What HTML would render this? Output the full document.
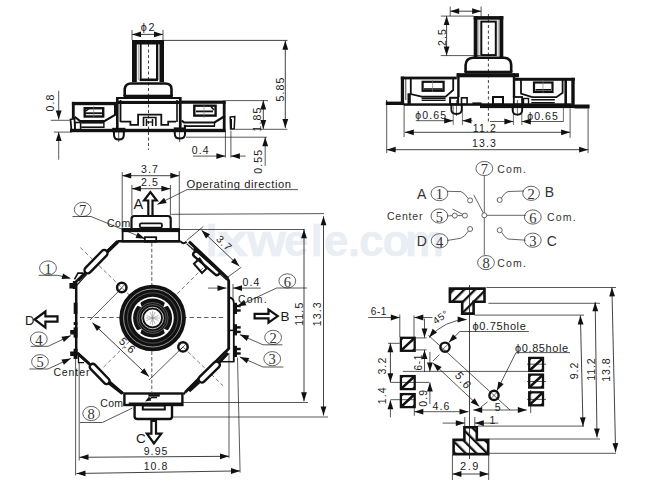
<!DOCTYPE html><html><head><meta charset="utf-8"><style>html,body{margin:0;padding:0;background:#fff;}svg{display:block}</style></head><body><svg width="661" height="486" viewBox="0 0 661 486">
<text transform="translate(205.5,255.5) scale(1,1)" font-family="Liberation Sans" font-size="44" font-weight="bold" fill="#e9edf4" stroke="#e9edf4" stroke-width="0.3">l</text>
<text transform="translate(216.7,255.5) scale(1.3,1)" font-family="Liberation Sans" font-size="44" font-weight="bold" fill="#e9edf4" stroke="#e9edf4" stroke-width="0.3">x</text>
<text transform="translate(247,255.5) scale(1.147,1)" font-family="Liberation Sans" font-size="44" font-weight="bold" fill="#e9edf4" stroke="#e9edf4" stroke-width="0.3">w</text>
<text transform="translate(284,255.5) scale(1,1)" font-family="Liberation Sans" font-size="44" font-weight="bold" fill="#e9edf4" stroke="#e9edf4" stroke-width="0.3">e</text>
<text transform="translate(310.6,255.5) scale(1,1)" font-family="Liberation Sans" font-size="44" font-weight="bold" fill="#e9edf4" stroke="#e9edf4" stroke-width="0.3">l</text>
<text transform="translate(324,255.5) scale(1,1)" font-family="Liberation Sans" font-size="44" font-weight="bold" fill="#e9edf4" stroke="#e9edf4" stroke-width="0.3">e</text>
<text transform="translate(348,255.5) scale(1,1)" font-family="Liberation Sans" font-size="44" font-weight="bold" fill="#e9edf4" stroke="#e9edf4" stroke-width="0.3">.</text>
<text transform="translate(359,255.5) scale(1,1)" font-family="Liberation Sans" font-size="44" font-weight="bold" fill="#e9edf4" stroke="#e9edf4" stroke-width="0.3">c</text>
<text transform="translate(382.5,255.5) scale(1,1)" font-family="Liberation Sans" font-size="44" font-weight="bold" fill="#e9edf4" stroke="#e9edf4" stroke-width="0.3">o</text>
<text transform="translate(405,255.5) scale(1,1)" font-family="Liberation Sans" font-size="44" font-weight="bold" fill="#e9edf4" stroke="#e9edf4" stroke-width="0.3">m</text>
<rect x="132.0" y="40.0" width="31.5" height="4.5" fill="#111"/>
<rect x="132.0" y="40.0" width="4.8" height="42.0" fill="#111"/>
<rect x="159.5" y="40.0" width="4.5" height="42.0" fill="#111"/>
<line x1="138.3" y1="44.0" x2="138.3" y2="80.0" stroke="#888" stroke-width="0.8"/>
<line x1="158.7" y1="44.0" x2="158.7" y2="80.0" stroke="#888" stroke-width="0.8"/>
<rect x="139.8" y="44.0" width="1.8" height="37.0" fill="#111"/>
<rect x="156.0" y="44.0" width="2.0" height="37.0" fill="#111"/>
<rect x="139.8" y="78.5" width="18.2" height="2.6" fill="#111"/>
<line x1="148.5" y1="44.0" x2="148.5" y2="150.0" stroke="#111" stroke-width="0.8" stroke-dasharray="3,2.5"/>
<path d="M124.7,96 L124.7,89 Q125.5,83.5 131,83.5 L165,83.5 Q171.5,83.5 171.5,89 L171.5,96" fill="none" stroke="#111" stroke-width="2.6"/>
<rect x="123.5" y="94.7" width="49.3" height="3.8" fill="#111"/>
<rect x="117.3" y="97.0" width="62.5" height="2.0" fill="#111"/>
<rect x="117.3" y="100.9" width="62.5" height="3.1" fill="#111"/>
<rect x="116.0" y="97.0" width="2.6" height="33.0" fill="#111"/>
<rect x="119.6" y="100.0" width="1.8" height="22.0" fill="#111"/>
<rect x="178.9" y="97.0" width="2.7" height="33.0" fill="#111"/>
<rect x="176.2" y="100.0" width="1.6" height="22.0" fill="#111"/>
<polyline points="120.5,121.7 130.4,121.7 130.4,124.8 138.1,124.8 138.1,114.7 161.3,114.7 161.3,124.8 168.2,124.8 168.2,121.7 176.0,121.7" fill="none" stroke="#111" stroke-width="1.8" stroke-linejoin="miter"/>
<polyline points="143.5,126.0 143.5,117.5 155.9,117.5 155.9,126.0" fill="none" stroke="#111" stroke-width="1.6" stroke-linejoin="miter"/>
<line x1="146.5" y1="119.0" x2="146.5" y2="126.0" stroke="#111" stroke-width="1.5"/>
<line x1="152.5" y1="119.0" x2="152.5" y2="126.0" stroke="#111" stroke-width="1.5"/>
<line x1="146.5" y1="122.0" x2="152.5" y2="122.0" stroke="#111" stroke-width="1.2"/>
<rect x="71.9" y="101.9" width="45.0" height="3.3" fill="#111"/>
<rect x="179.0" y="100.6" width="46.6" height="3.2" fill="#111"/>
<rect x="71.9" y="101.9" width="2.8" height="16.5" fill="#111"/>
<rect x="222.8" y="100.6" width="2.8" height="29.0" fill="#111"/>
<polygon points="70.5,119.5 74.5,118.5 75.0,131.0 71.5,131.0" fill="none" stroke="#111" stroke-width="1.8" stroke-linejoin="miter"/>
<rect x="75.0" y="122.5" width="5.6" height="8.0" rx="0" fill="none" stroke="#111" stroke-width="1.6"/>
<polyline points="74.7,116.8 79.8,120.9 104.8,120.9 115.0,114.9 115.0,105.0" fill="none" stroke="#111" stroke-width="2" stroke-linejoin="miter"/>
<rect x="81.2" y="121.9" width="22.7" height="1.7" fill="#111"/>
<rect x="81.2" y="126.4" width="22.7" height="1.6" fill="#111"/>
<line x1="103.9" y1="122.0" x2="103.9" y2="128.0" stroke="#111" stroke-width="1.4"/>
<rect x="84.7" y="108.2" width="18.5" height="8.3" rx="0" fill="none" stroke="#111" stroke-width="2.4"/>
<rect x="86.0" y="112.3" width="16.0" height="1.8" fill="#111"/>
<line x1="93.7" y1="106.0" x2="93.7" y2="118.0" stroke="#777" stroke-width="0.6"/>
<path d="M86,111 L89,108.5" stroke="#111" stroke-width="1.5"/>
<polyline points="181.7,120.5 184.0,122.5 214.5,122.5 224.9,116.0" fill="none" stroke="#111" stroke-width="2.2" stroke-linejoin="miter"/>
<rect x="183.9" y="125.2" width="31.0" height="1.8" fill="#111"/>
<rect x="183.9" y="124.8" width="2.0" height="4.0" fill="#111"/>
<line x1="214.5" y1="122.5" x2="214.5" y2="126.5" stroke="#111" stroke-width="1.4"/>
<rect x="194.3" y="105.7" width="21.3" height="9.9" rx="0" fill="none" stroke="#111" stroke-width="2.4"/>
<rect x="196.0" y="110.5" width="17.0" height="1.8" fill="#111"/>
<line x1="204.0" y1="104.0" x2="204.0" y2="118.0" stroke="#777" stroke-width="0.6"/>
<path d="M211,106.5 L214,110" stroke="#111" stroke-width="1.5"/>
<rect x="70.0" y="128.8" width="155.6" height="3.4" fill="#111"/>
<path d="M114,131.5 L114,135 Q114,139.6 118.9,139.6 Q123.8,139.6 123.8,135 L123.8,131.5" fill="none" stroke="#111" stroke-width="2"/>
<rect x="112.2" y="127.8" width="13.2" height="4.5" fill="#111"/>
<path d="M174.8,130.5 L174.8,134 Q174.8,138.6 179.9,138.6 Q185,138.6 185,134 L185,130.5" fill="none" stroke="#111" stroke-width="2"/>
<rect x="173.8" y="127.4" width="12.2" height="4.5" fill="#111"/>
<line x1="118.7" y1="131.0" x2="118.7" y2="142.0" stroke="#111" stroke-width="0.7"/>
<line x1="179.6" y1="131.0" x2="179.6" y2="142.0" stroke="#111" stroke-width="0.7"/>
<polygon points="230.2,117.0 234.8,116.5 234.2,129.0 230.6,129.0" fill="none" stroke="#111" stroke-width="1.5" stroke-linejoin="miter"/>
<rect x="230.4" y="119.0" width="1.6" height="10.0" fill="#111"/>
<line x1="132.0" y1="30.0" x2="132.0" y2="40.0" stroke="#111" stroke-width="0.7"/>
<line x1="163.0" y1="30.0" x2="163.0" y2="40.0" stroke="#111" stroke-width="0.7"/>
<line x1="132.0" y1="34.4" x2="163.0" y2="34.4" stroke="#111" stroke-width="0.8"/>
<polygon points="163.0,34.4 154.0,37.3 154.0,31.5" fill="#111"/>
<polygon points="132.0,34.4 141.0,31.5 141.0,37.3" fill="#111"/>
<text x="148.6" y="27.0" font-family="Liberation Sans" font-size="10.8" text-anchor="middle" dominant-baseline="central" letter-spacing="1.8" fill="#1a1a1a" font-weight="normal">&#981;2</text>
<line x1="163.0" y1="40.4" x2="287.5" y2="40.4" stroke="#111" stroke-width="0.8"/>
<line x1="285.3" y1="40.8" x2="285.3" y2="128.0" stroke="#111" stroke-width="0.8"/>
<polygon points="285.3,128.0 282.4,119.0 288.2,119.0" fill="#111"/>
<polygon points="285.3,40.8 288.2,49.8 282.4,49.8" fill="#111"/>
<text x="280.2" y="89.0" font-family="Liberation Sans" font-size="10.5" text-anchor="middle" dominant-baseline="central" letter-spacing="1.1" fill="#1a1a1a" font-weight="normal" transform="rotate(-90 280.2 89.0)">5.85</text>
<line x1="225.6" y1="100.6" x2="268.0" y2="100.6" stroke="#111" stroke-width="0.7"/>
<line x1="263.3" y1="100.4" x2="263.3" y2="128.9" stroke="#111" stroke-width="0.8"/>
<polygon points="263.3,128.9 260.4,119.9 266.2,119.9" fill="#111"/>
<polygon points="263.3,100.4 266.2,109.4 260.4,109.4" fill="#111"/>
<text x="256.9" y="119.0" font-family="Liberation Sans" font-size="10.5" text-anchor="middle" dominant-baseline="central" letter-spacing="1.1" fill="#1a1a1a" font-weight="normal" transform="rotate(-90 256.9 119.0)">1.85</text>
<line x1="235.0" y1="129.3" x2="287.4" y2="129.3" stroke="#111" stroke-width="0.7"/>
<line x1="50.8" y1="120.3" x2="69.5" y2="120.3" stroke="#111" stroke-width="0.7"/>
<line x1="53.8" y1="132.1" x2="72.0" y2="132.1" stroke="#111" stroke-width="0.7"/>
<line x1="58.7" y1="90.8" x2="58.7" y2="119.5" stroke="#111" stroke-width="0.7"/>
<polygon points="58.7,119.5 55.8,110.5 61.6,110.5" fill="#111"/>
<line x1="58.7" y1="132.1" x2="58.7" y2="159.6" stroke="#111" stroke-width="0.7"/>
<polygon points="58.7,132.1 61.6,141.1 55.8,141.1" fill="#111"/>
<text x="49.8" y="102.6" font-family="Liberation Sans" font-size="10.5" text-anchor="middle" dominant-baseline="central" letter-spacing="1.1" fill="#1a1a1a" font-weight="normal" transform="rotate(-90 49.8 102.6)">0.8</text>
<line x1="225.4" y1="130.0" x2="225.4" y2="157.6" stroke="#111" stroke-width="0.7"/>
<line x1="230.9" y1="130.7" x2="230.9" y2="157.6" stroke="#111" stroke-width="0.7"/>
<line x1="193.0" y1="156.1" x2="225.4" y2="156.1" stroke="#111" stroke-width="0.7"/>
<polygon points="225.4,156.1 216.4,159.0 216.4,153.2" fill="#111"/>
<line x1="230.9" y1="156.1" x2="245.7" y2="156.1" stroke="#111" stroke-width="0.7"/>
<polygon points="230.9,156.1 239.9,153.2 239.9,159.0" fill="#111"/>
<text x="200.7" y="150.2" font-family="Liberation Sans" font-size="10.5" text-anchor="middle" dominant-baseline="central" letter-spacing="1.1" fill="#1a1a1a" font-weight="normal">0.4</text>
<line x1="186.0" y1="137.2" x2="267.0" y2="137.2" stroke="#111" stroke-width="0.7"/>
<line x1="265.2" y1="137.2" x2="265.2" y2="165.9" stroke="#111" stroke-width="0.7"/>
<polygon points="265.2,137.2 268.1,146.2 262.3,146.2" fill="#111"/>
<text x="257.8" y="161.3" font-family="Liberation Sans" font-size="10.5" text-anchor="middle" dominant-baseline="central" letter-spacing="1.1" fill="#1a1a1a" font-weight="normal" transform="rotate(-90 257.8 161.3)">0.55</text>
<rect x="473.7" y="16.1" width="29.6" height="3.6" fill="#111"/>
<rect x="473.7" y="16.1" width="3.8" height="41.0" fill="#111"/>
<rect x="499.5" y="16.1" width="3.8" height="41.0" fill="#111"/>
<line x1="478.8" y1="20.0" x2="478.8" y2="56.0" stroke="#888" stroke-width="0.8"/>
<line x1="498.2" y1="20.0" x2="498.2" y2="56.0" stroke="#888" stroke-width="0.8"/>
<rect x="481.3" y="21.6" width="14.5" height="33.5" rx="0" fill="none" stroke="#111" stroke-width="2"/>
<line x1="488.4" y1="14.0" x2="488.4" y2="122.0" stroke="#111" stroke-width="0.8" stroke-dasharray="3,2.5"/>
<line x1="450.2" y1="6.6" x2="450.2" y2="16.0" stroke="#111" stroke-width="0.7"/>
<line x1="481.1" y1="6.6" x2="481.1" y2="16.0" stroke="#111" stroke-width="0.7"/>
<line x1="450.2" y1="11.2" x2="481.1" y2="11.2" stroke="#111" stroke-width="0.8"/>
<polygon points="481.1,11.2 472.1,14.1 472.1,8.3" fill="#111"/>
<polygon points="450.2,11.2 459.2,8.3 459.2,14.1" fill="#111"/>
<line x1="440.8" y1="16.1" x2="473.7" y2="16.1" stroke="#111" stroke-width="0.7"/>
<line x1="440.8" y1="55.6" x2="480.0" y2="55.6" stroke="#111" stroke-width="0.7"/>
<line x1="446.6" y1="16.1" x2="446.6" y2="55.6" stroke="#111" stroke-width="0.8"/>
<polygon points="446.6,55.6 443.7,46.6 449.5,46.6" fill="#111"/>
<polygon points="446.6,16.1 449.5,25.1 443.7,25.1" fill="#111"/>
<text x="442.0" y="37.0" font-family="Liberation Sans" font-size="10.5" text-anchor="middle" dominant-baseline="central" letter-spacing="1.1" fill="#1a1a1a" font-weight="normal" transform="rotate(-90 442.0 37.0)">2.5</text>
<path d="M465.6,72 L465.6,65 Q466,58 473,57.7 L504,57.7 Q511,58 511.2,65 L511.2,72" fill="none" stroke="#111" stroke-width="2.6"/>
<rect x="464.4" y="70.7" width="48.0" height="2.8" fill="#111"/>
<rect x="456.5" y="73.2" width="62.5" height="4.1" fill="#111"/>
<rect x="457.2" y="73.2" width="2.4" height="24.0" fill="#111"/>
<rect x="512.8" y="73.2" width="2.4" height="24.0" fill="#111"/>
<rect x="400.8" y="76.6" width="56.0" height="2.8" fill="#111"/>
<rect x="515.0" y="77.8" width="59.8" height="3.0" fill="#111"/>
<rect x="400.8" y="76.6" width="3.3" height="28.5" fill="#111"/>
<rect x="571.3" y="77.8" width="3.4" height="30.0" fill="#111"/>
<rect x="385.8" y="101.6" width="18.3" height="3.4" fill="#111"/>
<rect x="574.7" y="104.5" width="14.9" height="4.0" fill="#111"/>
<line x1="386.7" y1="100.0" x2="386.7" y2="105.0" stroke="#111" stroke-width="0.9"/>
<line x1="405.8" y1="79.0" x2="405.8" y2="100.0" stroke="#111" stroke-width="0.8"/>
<rect x="407.5" y="93.3" width="3.3" height="11.0" fill="#111"/>
<rect x="564.4" y="80.0" width="2.6" height="26.0" fill="#111"/>
<polyline points="410.8,79.0 410.8,94.0 421.6,96.6 445.7,96.6 453.2,90.0 453.2,79.0" fill="none" stroke="#111" stroke-width="1.8" stroke-linejoin="miter"/>
<rect x="422.6" y="81.8" width="21.0" height="9.0" rx="0" fill="none" stroke="#111" stroke-width="2.2"/>
<rect x="424.0" y="88.2" width="18.5" height="1.6" fill="#111"/>
<line x1="432.5" y1="80.0" x2="432.5" y2="92.0" stroke="#777" stroke-width="0.6"/>
<rect x="421.6" y="97.5" width="24.0" height="1.5" fill="#111"/>
<rect x="421.6" y="99.6" width="24.0" height="1.4" fill="#111"/>
<polyline points="521.0,80.0 521.0,93.7 532.2,97.2 556.5,97.2 562.6,92.8 562.6,80.0" fill="none" stroke="#111" stroke-width="1.8" stroke-linejoin="miter"/>
<rect x="534.0" y="82.5" width="18.5" height="9.5" rx="0" fill="none" stroke="#111" stroke-width="2.2"/>
<rect x="535.5" y="89.0" width="15.5" height="1.6" fill="#111"/>
<line x1="543.0" y1="80.0" x2="543.0" y2="93.0" stroke="#777" stroke-width="0.6"/>
<rect x="531.3" y="99.0" width="23.5" height="1.5" fill="#111"/>
<rect x="531.3" y="102.0" width="23.5" height="1.4" fill="#111"/>
<rect x="404.0" y="103.3" width="167.5" height="2.5" fill="#111"/>
<rect x="480.0" y="104.9" width="95.0" height="3.2" fill="#111"/>
<rect x="450.1" y="97.8" width="8.0" height="6.5" rx="0" fill="none" stroke="#111" stroke-width="2"/>
<rect x="461.5" y="97.8" width="5.6" height="6.5" rx="0" fill="none" stroke="#111" stroke-width="1.6"/>
<rect x="493.0" y="97.0" width="10.0" height="7.5" rx="0" fill="none" stroke="#111" stroke-width="2"/>
<rect x="513.8" y="97.0" width="8.3" height="7.5" rx="0" fill="none" stroke="#111" stroke-width="1.8"/>
<rect x="523.5" y="98.5" width="5.0" height="6.0" rx="0" fill="none" stroke="#111" stroke-width="1.4"/>
<rect x="472.4" y="102.4" width="9.1" height="2.6" fill="#111"/>
<path d="M451.3,105 L451.3,109.5 Q451.3,114 456.5,114 Q461.7,114 461.7,109.5 L461.7,105" fill="none" stroke="#111" stroke-width="1.8"/>
<path d="M512.6,106 L512.6,110 Q512.6,114.6 517.4,114.6 Q522.2,114.6 522.2,110 L522.2,106" fill="none" stroke="#111" stroke-width="1.8"/>
<line x1="456.5" y1="100.0" x2="456.5" y2="116.0" stroke="#111" stroke-width="0.6"/>
<line x1="517.4" y1="100.0" x2="517.4" y2="116.0" stroke="#111" stroke-width="0.6"/>
<line x1="453.2" y1="106.0" x2="453.2" y2="125.0" stroke="#111" stroke-width="0.6"/>
<line x1="462.4" y1="106.0" x2="462.4" y2="125.0" stroke="#111" stroke-width="0.6"/>
<line x1="513.4" y1="108.0" x2="513.4" y2="125.0" stroke="#111" stroke-width="0.6"/>
<line x1="521.8" y1="108.0" x2="521.8" y2="125.0" stroke="#111" stroke-width="0.6"/>
<line x1="415.8" y1="120.7" x2="453.2" y2="120.7" stroke="#111" stroke-width="0.7"/>
<polygon points="453.2,120.7 444.2,123.6 444.2,117.8" fill="#111"/>
<line x1="462.4" y1="120.7" x2="472.4" y2="120.7" stroke="#111" stroke-width="0.7"/>
<polygon points="462.4,120.7 471.4,117.8 471.4,123.6" fill="#111"/>
<line x1="490.0" y1="121.5" x2="513.4" y2="121.5" stroke="#111" stroke-width="0.7"/>
<polygon points="513.4,121.5 504.4,124.4 504.4,118.6" fill="#111"/>
<line x1="521.8" y1="121.5" x2="563.4" y2="121.5" stroke="#111" stroke-width="0.7"/>
<polygon points="521.8,121.5 530.8,118.6 530.8,124.4" fill="#111"/>
<line x1="563.4" y1="108.0" x2="563.4" y2="121.5" stroke="#111" stroke-width="0.6"/>
<text x="431.2" y="114.9" font-family="Liberation Sans" font-size="10.5" text-anchor="middle" dominant-baseline="central" letter-spacing="1.1" fill="#1a1a1a" font-weight="normal">&#981;0.65</text>
<text x="543.1" y="115.5" font-family="Liberation Sans" font-size="10.5" text-anchor="middle" dominant-baseline="central" letter-spacing="1.1" fill="#1a1a1a" font-weight="normal">&#981;0.65</text>
<line x1="404.1" y1="105.0" x2="404.1" y2="137.0" stroke="#111" stroke-width="0.7"/>
<line x1="570.1" y1="108.4" x2="570.1" y2="137.8" stroke="#111" stroke-width="0.7"/>
<line x1="404.8" y1="132.3" x2="570.1" y2="132.3" stroke="#111" stroke-width="0.8"/>
<polygon points="570.1,132.3 561.1,135.2 561.1,129.4" fill="#111"/>
<polygon points="404.8,132.3 413.8,129.4 413.8,135.2" fill="#111"/>
<text x="484.8" y="128.3" font-family="Liberation Sans" font-size="10.5" text-anchor="middle" dominant-baseline="central" letter-spacing="1.1" fill="#1a1a1a" font-weight="normal">11.2</text>
<line x1="386.7" y1="105.0" x2="386.7" y2="153.0" stroke="#111" stroke-width="0.7"/>
<line x1="588.1" y1="108.4" x2="588.1" y2="153.1" stroke="#111" stroke-width="0.7"/>
<line x1="386.7" y1="149.7" x2="588.1" y2="149.7" stroke="#111" stroke-width="0.8"/>
<polygon points="588.1,149.7 579.1,152.6 579.1,146.8" fill="#111"/>
<polygon points="386.7,149.7 395.7,146.8 395.7,152.6" fill="#111"/>
<text x="484.5" y="142.7" font-family="Liberation Sans" font-size="10.5" text-anchor="middle" dominant-baseline="central" letter-spacing="1.1" fill="#1a1a1a" font-weight="normal">13.3</text>
<line x1="151.8" y1="243.0" x2="151.8" y2="392.0" stroke="#333" stroke-width="0.8" stroke-dasharray="3.7,2"/>
<line x1="80.0" y1="317.5" x2="226.0" y2="317.5" stroke="#333" stroke-width="0.8" stroke-dasharray="4.5,2.8"/>
<line x1="80.4" y1="247.6" x2="223.0" y2="385.7" stroke="#444" stroke-width="0.7" stroke-dasharray="4,2.5"/>
<line x1="103.5" y1="367.2" x2="205.0" y2="266.0" stroke="#444" stroke-width="0.7" stroke-dasharray="4,2.5"/>
<path d="M131.5,228.5 L131.5,219 Q131.5,216 134.5,216 L167.7,216 Q170.7,216 170.7,219 L170.7,228.5" fill="none" stroke="#111" stroke-width="2.2"/>
<rect x="139.8" y="223.4" width="22.2" height="4.2" rx="1.5" fill="none" stroke="#111" stroke-width="1.8"/>
<rect x="122.6" y="229.0" width="56.5" height="12.5" rx="0" fill="none" stroke="#111" stroke-width="1.8"/>
<rect x="121.8" y="228.3" width="57.8" height="3.8" fill="#111"/>
<rect x="144.8" y="237.2" width="11.4" height="4.5" rx="0" fill="none" stroke="#111" stroke-width="1.8"/>
<polyline points="117.4,241.3 180.5,241.3" fill="none" stroke="#111" stroke-width="2.4" stroke-linejoin="miter"/>
<path d="M180.5,241.3 Q183,245 186.6,241.8" fill="none" stroke="#111" stroke-width="2"/>
<polyline points="117.4,241.3 76.2,281.5 76.2,352.4 123.0,393.5" fill="none" stroke="#111" stroke-width="2.5" stroke-linejoin="miter"/>
<line x1="118.0" y1="241.5" x2="106.0" y2="253.0" stroke="#111" stroke-width="3.6"/>
<line x1="86.0" y1="272.5" x2="78.0" y2="280.5" stroke="#111" stroke-width="3"/>
<line x1="89.0" y1="363.5" x2="77.5" y2="353.0" stroke="#111" stroke-width="3"/>
<line x1="109.0" y1="383.0" x2="122.5" y2="393.5" stroke="#111" stroke-width="3.4"/>
<line x1="219.5" y1="362.0" x2="228.0" y2="353.0" stroke="#111" stroke-width="3.2"/>
<line x1="199.0" y1="382.0" x2="189.0" y2="391.0" stroke="#111" stroke-width="3.2"/>
<line x1="189.0" y1="241.6" x2="228.0" y2="278.5" stroke="#111" stroke-width="3"/>
<line x1="186.6" y1="243.6" x2="226.8" y2="280.0" stroke="#111" stroke-width="1.2"/>
<polyline points="227.6,278.5 228.7,281.0 228.7,348.7 185.2,392.2" fill="none" stroke="#111" stroke-width="2.8" stroke-linejoin="miter"/>
<line x1="224.5" y1="352.0" x2="186.5" y2="391.0" stroke="#111" stroke-width="1.2"/>
<path d="M185.2,392.2 L183.5,394.5" stroke="#111" stroke-width="2"/>
<rect x="81.0" y="258.5" width="30.1" height="6.5" rx="3.25" fill="#fff" stroke="#111" stroke-width="2.4" transform="rotate(-45.7 96.0 261.8)"/>
<rect x="86.7" y="370.9" width="25.9" height="6" rx="3.0" fill="#fff" stroke="#111" stroke-width="2.4" transform="rotate(45.9 99.6 373.9)"/>
<rect x="195.6" y="368.8" width="27.2" height="6.5" rx="3.25" fill="#fff" stroke="#111" stroke-width="2.4" transform="rotate(-44.3 209.2 372.0)"/>
<rect x="190.0" y="260.5" width="33.0" height="5.5" rx="2.75" fill="#fff" stroke="#111" stroke-width="2.4" transform="rotate(40.7 206.5 263.2)"/>
<line x1="194.0" y1="248.0" x2="220.0" y2="272.0" stroke="#111" stroke-width="2.6"/>
<polyline points="74.5,279.3 78.0,273.1 83.0,273.1" fill="none" stroke="#111" stroke-width="1.6" stroke-linejoin="miter"/>
<line x1="75.6" y1="286.7" x2="86.7" y2="274.3" stroke="#111" stroke-width="1.2"/>
<polyline points="78.5,353.0 78.5,362.6 84.0,362.6" fill="none" stroke="#111" stroke-width="1.3" stroke-linejoin="miter"/>
<polygon points="194.0,263.8 199.6,258.5 206.4,268.7 202.0,273.0" fill="none" stroke="#111" stroke-width="2" stroke-linejoin="miter"/>
<rect x="124.4" y="393.5" width="58.0" height="11.5" rx="0" fill="none" stroke="#111" stroke-width="2.4"/>
<rect x="128.7" y="402.5" width="54.0" height="3.4" fill="#111"/>
<path d="M134.6,405.7 L134.6,416.5 Q134.6,419 137.5,419 L169.5,419 Q172,419 172,416.5 L172,405.7" fill="none" stroke="#111" stroke-width="2.4"/>
<rect x="142.8" y="405.5" width="22.0" height="4.0" rx="0" fill="none" stroke="#111" stroke-width="2"/>
<rect x="148.4" y="394.2" width="11.4" height="2.4" fill="#111"/>
<polyline points="157.0,397.5 152.0,397.5 147.0,400.5" fill="none" stroke="#111" stroke-width="1.4" stroke-linejoin="miter"/>
<polygon points="145.0,401.5 149.1,396.6 151.3,400.4" fill="#111"/>
<path d="M229,297.5 Q233.8,298 233.8,303 L233.8,361.5" fill="none" stroke="#111" stroke-width="1.8"/>
<line x1="228.7" y1="330.4" x2="233.8" y2="330.4" stroke="#111" stroke-width="1.5"/>
<line x1="220.0" y1="361.7" x2="234.5" y2="361.7" stroke="#111" stroke-width="1.5"/>
<line x1="220.0" y1="361.7" x2="226.5" y2="355.0" stroke="#111" stroke-width="1.2"/>
<rect x="233.0" y="302.8" width="4.0" height="11.2" fill="#111"/>
<rect x="236.5" y="304.8" width="4.2" height="2.4" fill="#111"/>
<rect x="236.5" y="309.3" width="4.2" height="2.4" fill="#111"/>
<rect x="233.0" y="324.2" width="4.0" height="11.2" fill="#111"/>
<rect x="236.5" y="326.2" width="4.2" height="2.4" fill="#111"/>
<rect x="236.5" y="330.7" width="4.2" height="2.4" fill="#111"/>
<rect x="233.0" y="345.8" width="4.0" height="11.2" fill="#111"/>
<rect x="236.5" y="347.8" width="4.2" height="2.4" fill="#111"/>
<rect x="236.5" y="352.3" width="4.2" height="2.4" fill="#111"/>
<rect x="73.6" y="327.4" width="4.0" height="10.2" fill="#111"/>
<rect x="70.2" y="330.0" width="4.0" height="4.5" fill="#111"/>
<rect x="73.6" y="348.7" width="4.0" height="10.2" fill="#111"/>
<rect x="70.2" y="351.5" width="4.0" height="4.5" fill="#111"/>
<rect x="72.8" y="281.0" width="4.2" height="8.0" fill="#111"/>
<rect x="69.4" y="283.0" width="4.0" height="5.5" fill="#111"/>
<rect x="73.7" y="302.7" width="3.7" height="11.2" fill="#111"/>
<rect x="73.7" y="322.0" width="3.7" height="3.0" fill="#111"/>
<circle cx="152.6" cy="318.0" r="33.3" fill="#111" stroke="#111" stroke-width="0"/>
<circle cx="152.6" cy="318.0" r="29.0" fill="none" stroke="#bbb" stroke-width="0.8"/>
<circle cx="152.6" cy="318.0" r="25.2" fill="none" stroke="#777" stroke-width="0.6"/>
<circle cx="152.6" cy="318.0" r="21.2" fill="#fff" stroke="#111" stroke-width="0"/>
<circle cx="152.6" cy="318.0" r="19.5" fill="#111" stroke="#111" stroke-width="0"/>
<polygon points="163.2,328.6 165.1,333.8 168.4,330.5" fill="#fff"/>
<polygon points="142.0,328.6 136.8,330.5 140.1,333.8" fill="#fff"/>
<polygon points="142.0,307.4 140.1,302.2 136.8,305.5" fill="#fff"/>
<polygon points="163.2,307.4 168.4,305.5 165.1,302.2" fill="#fff"/>
<circle cx="152.6" cy="318.0" r="15.5" fill="none" stroke="#888" stroke-width="0.6"/>
<circle cx="152.6" cy="318.0" r="13.5" fill="none" stroke="#888" stroke-width="0.6"/>
<circle cx="152.6" cy="318.0" r="10.8" fill="none" stroke="#ddd" stroke-width="0.9"/>
<circle cx="152.6" cy="318.0" r="8.5" fill="#fff" stroke="#111" stroke-width="0"/>
<line x1="146.6" y1="315.5" x2="158.6" y2="320.5" stroke="#888" stroke-width="0.6"/>
<line x1="150.1" y1="312.0" x2="155.1" y2="324.0" stroke="#888" stroke-width="0.6"/>
<line x1="155.1" y1="312.0" x2="150.1" y2="324.0" stroke="#888" stroke-width="0.6"/>
<line x1="158.6" y1="315.5" x2="146.6" y2="320.5" stroke="#888" stroke-width="0.6"/>
<line x1="145.6" y1="318.0" x2="159.6" y2="318.0" stroke="#888" stroke-width="0.6"/>
<line x1="152.6" y1="311.0" x2="152.6" y2="325.0" stroke="#888" stroke-width="0.6"/>
<circle cx="121.8" cy="287.5" r="4.7" fill="none" stroke="#111" stroke-width="2.5"/>
<line x1="118.3" y1="291.0" x2="125.3" y2="284.0" stroke="#111" stroke-width="0.7"/>
<circle cx="183.0" cy="346.9" r="4.7" fill="none" stroke="#111" stroke-width="2.5"/>
<line x1="179.5" y1="350.4" x2="186.5" y2="343.4" stroke="#111" stroke-width="0.7"/>
<line x1="122.0" y1="287.8" x2="90.0" y2="320.0" stroke="#111" stroke-width="0.7"/>
<line x1="183.0" y1="346.9" x2="149.0" y2="380.0" stroke="#111" stroke-width="0.7"/>
<line x1="92.4" y1="322.8" x2="148.9" y2="376.5" stroke="#111" stroke-width="0.8"/>
<polygon points="148.9,376.5 140.4,372.4 144.4,368.2" fill="#111"/>
<polygon points="92.4,322.8 100.9,326.9 96.9,331.1" fill="#111"/>
<text x="127.8" y="345.5" font-family="Liberation Sans" font-size="11" text-anchor="middle" dominant-baseline="central" letter-spacing="1.1" fill="#1a1a1a" font-weight="normal" transform="rotate(44 127.8 345.5)">5.6</text>
<line x1="122.2" y1="172.0" x2="122.2" y2="228.5" stroke="#111" stroke-width="0.7"/>
<line x1="179.3" y1="171.0" x2="179.3" y2="228.5" stroke="#111" stroke-width="0.7"/>
<line x1="122.2" y1="175.7" x2="179.3" y2="175.7" stroke="#111" stroke-width="0.8"/>
<polygon points="179.3,175.7 170.3,178.6 170.3,172.8" fill="#111"/>
<polygon points="122.2,175.7 131.2,172.8 131.2,178.6" fill="#111"/>
<text x="150.0" y="169.3" font-family="Liberation Sans" font-size="10.5" text-anchor="middle" dominant-baseline="central" letter-spacing="1.1" fill="#1a1a1a" font-weight="normal">3.7</text>
<line x1="131.9" y1="185.0" x2="131.9" y2="215.5" stroke="#111" stroke-width="0.7"/>
<line x1="170.4" y1="185.0" x2="170.4" y2="215.5" stroke="#111" stroke-width="0.7"/>
<line x1="131.9" y1="188.7" x2="170.4" y2="188.7" stroke="#111" stroke-width="0.8"/>
<polygon points="170.4,188.7 161.4,191.6 161.4,185.8" fill="#111"/>
<polygon points="131.9,188.7 140.9,185.8 140.9,191.6" fill="#111"/>
<text x="150.0" y="182.2" font-family="Liberation Sans" font-size="10.5" text-anchor="middle" dominant-baseline="central" letter-spacing="1.1" fill="#1a1a1a" font-weight="normal">2.5</text>
<path d="M148.3,215.5 L148.3,200.5 L144,200.5 L150.4,192 L156.8,200.5 L152.5,200.5 L152.5,215.5" fill="none" stroke="#111" stroke-width="2.2"/>
<text x="138.4" y="203.5" font-family="Liberation Sans" font-size="14.5" text-anchor="middle" dominant-baseline="central" letter-spacing="0" fill="#1a1a1a" font-weight="normal">A</text>
<line x1="157.4" y1="204.4" x2="187.0" y2="189.6" stroke="#111" stroke-width="0.7"/>
<polygon points="157.4,204.4 164.1,197.7 166.7,202.9" fill="#111"/>
<line x1="187.0" y1="189.6" x2="298.0" y2="189.6" stroke="#111" stroke-width="0.7"/>
<text x="186.5" y="184.3" font-family="Liberation Sans" font-size="11.2" text-anchor="start" dominant-baseline="central" letter-spacing="0.55" fill="#1a1a1a" font-weight="normal">Operating direction</text>
<ellipse cx="82.7" cy="209.4" rx="8.4" ry="7.1" fill="none" stroke="#333" stroke-width="0.75"/>
<text x="82.7" y="210.1" font-family="Liberation Serif" font-size="14.5" text-anchor="middle" dominant-baseline="central" letter-spacing="0" fill="#333" font-weight="normal">7</text>
<line x1="72.5" y1="216.5" x2="91.0" y2="216.5" stroke="#111" stroke-width="0.7"/>
<line x1="91.0" y1="216.5" x2="145.0" y2="238.7" stroke="#111" stroke-width="0.7"/>
<polygon points="145.0,238.7 135.6,238.0 137.7,232.6" fill="#111"/>
<text x="118.8" y="223.3" font-family="Liberation Sans" font-size="10.5" text-anchor="middle" dominant-baseline="central" letter-spacing="0.5" fill="#1a1a1a" font-weight="normal">Com</text>
<ellipse cx="48.0" cy="268.0" rx="8.4" ry="7.1" fill="none" stroke="#333" stroke-width="0.75"/>
<text x="48.0" y="268.7" font-family="Liberation Serif" font-size="14.5" text-anchor="middle" dominant-baseline="central" letter-spacing="0" fill="#333" font-weight="normal">1</text>
<line x1="38.7" y1="275.3" x2="57.5" y2="275.3" stroke="#111" stroke-width="0.7"/>
<line x1="57.5" y1="275.3" x2="69.5" y2="278.0" stroke="#111" stroke-width="0.7"/>
<polygon points="71.0,278.5 61.6,279.0 63.1,273.4" fill="#111"/>
<ellipse cx="38.8" cy="339.0" rx="8.4" ry="7.1" fill="none" stroke="#333" stroke-width="0.75"/>
<text x="38.8" y="339.7" font-family="Liberation Serif" font-size="14.5" text-anchor="middle" dominant-baseline="central" letter-spacing="0" fill="#333" font-weight="normal">4</text>
<ellipse cx="40.0" cy="361.7" rx="8.4" ry="7.1" fill="none" stroke="#333" stroke-width="0.75"/>
<text x="40.0" y="362.4" font-family="Liberation Serif" font-size="14.5" text-anchor="middle" dominant-baseline="central" letter-spacing="0" fill="#333" font-weight="normal">5</text>
<line x1="30.7" y1="346.3" x2="48.1" y2="346.3" stroke="#111" stroke-width="0.7"/>
<line x1="48.1" y1="346.3" x2="70.8" y2="335.6" stroke="#111" stroke-width="0.7"/>
<polygon points="70.8,335.6 63.9,342.0 61.4,336.8" fill="#111"/>
<line x1="29.4" y1="369.0" x2="48.0" y2="369.0" stroke="#111" stroke-width="0.7"/>
<line x1="48.0" y1="369.0" x2="70.8" y2="358.4" stroke="#111" stroke-width="0.7"/>
<polygon points="70.8,358.4 63.9,364.8 61.4,359.6" fill="#111"/>
<text x="53.4" y="371.7" font-family="Liberation Sans" font-size="10.5" text-anchor="start" dominant-baseline="central" letter-spacing="0.9" fill="#1a1a1a" font-weight="normal">Center</text>
<text x="29.6" y="320.5" font-family="Liberation Sans" font-size="13" text-anchor="middle" dominant-baseline="central" letter-spacing="0" fill="#1a1a1a" font-weight="normal">D</text>
<path d="M34.7,319.5 L45.4,311.5 L45.4,316.4 L57.5,316.4 L57.5,321.7 L45.4,321.7 L45.4,327.6 Z" fill="none" stroke="#111" stroke-width="2.2"/>
<path d="M277.8,316.1 L268.5,309.6 L268.5,313.8 L254.6,313.8 L254.6,318.4 L268.5,318.4 L268.5,322.6 Z" fill="none" stroke="#111" stroke-width="2.2"/>
<text x="285.0" y="316.3" font-family="Liberation Sans" font-size="13.5" text-anchor="middle" dominant-baseline="central" letter-spacing="0" fill="#1a1a1a" font-weight="normal">B</text>
<ellipse cx="287.3" cy="280.9" rx="8.4" ry="7.1" fill="none" stroke="#333" stroke-width="0.75"/>
<text x="287.3" y="281.6" font-family="Liberation Serif" font-size="14.5" text-anchor="middle" dominant-baseline="central" letter-spacing="0" fill="#333" font-weight="normal">6</text>
<line x1="276.7" y1="288.0" x2="306.7" y2="288.0" stroke="#111" stroke-width="0.7"/>
<line x1="276.7" y1="288.0" x2="237.0" y2="306.5" stroke="#111" stroke-width="0.7"/>
<polygon points="237.0,306.5 243.9,300.1 246.4,305.3" fill="#111"/>
<text x="253.0" y="298.6" font-family="Liberation Sans" font-size="10.5" text-anchor="middle" dominant-baseline="central" letter-spacing="1.2" fill="#1a1a1a" font-weight="normal">Com.</text>
<ellipse cx="273.1" cy="337.4" rx="8.4" ry="7.1" fill="none" stroke="#333" stroke-width="0.75"/>
<text x="273.1" y="338.1" font-family="Liberation Serif" font-size="14.5" text-anchor="middle" dominant-baseline="central" letter-spacing="0" fill="#333" font-weight="normal">2</text>
<ellipse cx="272.2" cy="358.7" rx="8.4" ry="7.1" fill="none" stroke="#333" stroke-width="0.75"/>
<text x="272.2" y="359.4" font-family="Liberation Serif" font-size="14.5" text-anchor="middle" dominant-baseline="central" letter-spacing="0" fill="#333" font-weight="normal">3</text>
<line x1="239.8" y1="334.6" x2="263.0" y2="344.8" stroke="#111" stroke-width="0.7"/>
<line x1="263.0" y1="344.8" x2="282.4" y2="344.8" stroke="#111" stroke-width="0.7"/>
<polygon points="239.8,334.6 249.2,335.6 246.8,340.9" fill="#111"/>
<line x1="239.8" y1="356.9" x2="263.0" y2="367.0" stroke="#111" stroke-width="0.7"/>
<line x1="263.0" y1="367.0" x2="283.3" y2="367.0" stroke="#111" stroke-width="0.7"/>
<polygon points="239.8,356.9 249.2,357.9 246.8,363.2" fill="#111"/>
<path d="M154,443.5 L146.9,433.7 L151.4,433.7 L151.4,420.8 L156,420.8 L156,433.7 L161.3,433.7 Z" fill="none" stroke="#111" stroke-width="2.2"/>
<text x="140.8" y="438.2" font-family="Liberation Sans" font-size="13.5" text-anchor="middle" dominant-baseline="central" letter-spacing="0" fill="#1a1a1a" font-weight="normal">C</text>
<text x="100.3" y="402.7" font-family="Liberation Sans" font-size="10.5" text-anchor="start" dominant-baseline="central" letter-spacing="0" fill="#1a1a1a" font-weight="normal">C</text>
<text x="108.3" y="402.7" font-family="Liberation Sans" font-size="10.5" text-anchor="start" dominant-baseline="central" letter-spacing="0" fill="#1a1a1a" font-weight="normal">om</text>
<ellipse cx="91.2" cy="413.5" rx="8.4" ry="7.1" fill="none" stroke="#333" stroke-width="0.75"/>
<text x="91.2" y="414.2" font-family="Liberation Serif" font-size="14.5" text-anchor="middle" dominant-baseline="central" letter-spacing="0" fill="#333" font-weight="normal">8</text>
<line x1="80.0" y1="422.5" x2="102.3" y2="422.5" stroke="#111" stroke-width="0.7"/>
<line x1="102.3" y1="422.5" x2="132.5" y2="408.0" stroke="#111" stroke-width="0.7"/>
<line x1="186.7" y1="240.4" x2="203.3" y2="226.5" stroke="#111" stroke-width="0.7"/>
<line x1="227.4" y1="277.4" x2="241.3" y2="267.2" stroke="#111" stroke-width="0.7"/>
<line x1="201.5" y1="230.2" x2="239.4" y2="266.3" stroke="#111" stroke-width="0.8"/>
<polygon points="239.4,266.3 230.9,262.2 234.9,258.0" fill="#111"/>
<polygon points="201.5,230.2 210.0,234.3 206.0,238.5" fill="#111"/>
<text x="224.6" y="243.1" font-family="Liberation Sans" font-size="10.5" text-anchor="middle" dominant-baseline="central" letter-spacing="1.1" fill="#1a1a1a" font-weight="normal" transform="rotate(44 224.6 243.1)">3.7</text>
<line x1="233.0" y1="284.0" x2="233.0" y2="300.0" stroke="#111" stroke-width="0.7"/>
<line x1="208.0" y1="288.1" x2="226.5" y2="288.1" stroke="#111" stroke-width="0.7"/>
<polygon points="226.5,288.1 217.5,291.0 217.5,285.2" fill="#111"/>
<line x1="233.0" y1="288.1" x2="260.7" y2="288.1" stroke="#111" stroke-width="0.7"/>
<polygon points="233.0,288.1 242.0,285.2 242.0,291.0" fill="#111"/>
<text x="251.5" y="282.0" font-family="Liberation Sans" font-size="10.5" text-anchor="middle" dominant-baseline="central" letter-spacing="1.1" fill="#1a1a1a" font-weight="normal">0.4</text>
<line x1="179.3" y1="229.5" x2="304.5" y2="229.5" stroke="#111" stroke-width="0.7"/>
<line x1="183.2" y1="402.5" x2="308.0" y2="402.5" stroke="#111" stroke-width="0.7"/>
<line x1="304.0" y1="229.2" x2="304.0" y2="401.3" stroke="#111" stroke-width="0.8"/>
<polygon points="304.0,401.3 301.1,392.3 306.9,392.3" fill="#111"/>
<polygon points="304.0,229.2 306.9,238.2 301.1,238.2" fill="#111"/>
<text x="298.8" y="313.7" font-family="Liberation Sans" font-size="10.5" text-anchor="middle" dominant-baseline="central" letter-spacing="1.1" fill="#1a1a1a" font-weight="normal" transform="rotate(-90 298.8 313.7)">11.5</text>
<line x1="171.3" y1="214.3" x2="324.0" y2="213.6" stroke="#111" stroke-width="0.7"/>
<line x1="172.6" y1="417.0" x2="328.0" y2="417.0" stroke="#111" stroke-width="0.7"/>
<line x1="323.5" y1="216.3" x2="323.5" y2="415.5" stroke="#111" stroke-width="0.8"/>
<polygon points="323.5,415.5 320.6,406.5 326.4,406.5" fill="#111"/>
<polygon points="323.5,216.3 326.4,225.3 320.6,225.3" fill="#111"/>
<text x="316.8" y="313.7" font-family="Liberation Sans" font-size="10.5" text-anchor="middle" dominant-baseline="central" letter-spacing="1.1" fill="#1a1a1a" font-weight="normal" transform="rotate(-90 316.8 313.7)">13.3</text>
<line x1="75.6" y1="352.0" x2="75.6" y2="475.5" stroke="#111" stroke-width="0.7"/>
<line x1="79.2" y1="362.0" x2="79.2" y2="460.5" stroke="#111" stroke-width="0.7"/>
<line x1="229.0" y1="353.0" x2="229.0" y2="458.2" stroke="#111" stroke-width="0.7"/>
<line x1="237.5" y1="357.5" x2="240.1" y2="472.6" stroke="#111" stroke-width="0.7"/>
<line x1="79.5" y1="457.3" x2="229.0" y2="456.3" stroke="#111" stroke-width="0.8"/>
<polygon points="229.0,456.3 220.0,459.3 220.0,453.5" fill="#111"/>
<polygon points="79.5,457.3 88.5,454.3 88.5,460.1" fill="#111"/>
<text x="156.1" y="451.1" font-family="Liberation Sans" font-size="10.5" text-anchor="middle" dominant-baseline="central" letter-spacing="1.1" fill="#1a1a1a" font-weight="normal">9.95</text>
<line x1="76.5" y1="473.5" x2="240.0" y2="470.9" stroke="#111" stroke-width="0.8"/>
<polygon points="240.0,470.9 231.0,473.9 231.0,468.1" fill="#111"/>
<polygon points="76.5,473.5 85.5,470.5 85.5,476.3" fill="#111"/>
<text x="156.1" y="466.2" font-family="Liberation Sans" font-size="10.5" text-anchor="middle" dominant-baseline="central" letter-spacing="1.1" fill="#1a1a1a" font-weight="normal">10.8</text>
<line x1="484.3" y1="175.5" x2="484.3" y2="255.0" stroke="#555" stroke-width="0.9"/>
<line x1="487.0" y1="215.3" x2="525.7" y2="215.3" stroke="#555" stroke-width="0.9"/>
<line x1="447.0" y1="216.0" x2="452.0" y2="215.6" stroke="#555" stroke-width="0.9"/>
<line x1="457.3" y1="215.6" x2="462.2" y2="215.6" stroke="#555" stroke-width="0.9"/>
<line x1="452.5" y1="209.0" x2="463.0" y2="214.5" stroke="#555" stroke-width="0.9"/>
<path d="M447,191.3 L461,191.6 Q464,192.5 468.2,198.5" fill="none" stroke="#555" stroke-width="0.9"/>
<line x1="473.7" y1="194.7" x2="483.3" y2="213.0" stroke="#555" stroke-width="0.9"/>
<path d="M501.5,198 Q504,193 508,191.5 L524,191" fill="none" stroke="#555" stroke-width="0.9"/>
<path d="M468.5,231 Q464,237.5 460.6,238.3 L447,240.5" fill="none" stroke="#555" stroke-width="0.9"/>
<path d="M501.5,232 Q505,238 508,239 L525.7,240.2" fill="none" stroke="#555" stroke-width="0.9"/>
<circle cx="470.1" cy="200.4" r="2.5" fill="#fff" stroke="#555" stroke-width="0.9"/>
<circle cx="499.7" cy="200.0" r="2.5" fill="#fff" stroke="#555" stroke-width="0.9"/>
<circle cx="454.8" cy="215.6" r="2.5" fill="#fff" stroke="#555" stroke-width="0.9"/>
<circle cx="464.9" cy="215.6" r="2.5" fill="#fff" stroke="#555" stroke-width="0.9"/>
<circle cx="484.3" cy="215.3" r="2.5" fill="#fff" stroke="#555" stroke-width="0.9"/>
<circle cx="470.1" cy="229.0" r="2.5" fill="#fff" stroke="#555" stroke-width="0.9"/>
<circle cx="499.7" cy="230.2" r="2.5" fill="#fff" stroke="#555" stroke-width="0.9"/>
<ellipse cx="484.3" cy="168.5" rx="8.4" ry="7.1" fill="none" stroke="#333" stroke-width="0.75"/>
<text x="484.3" y="169.2" font-family="Liberation Serif" font-size="14.5" text-anchor="middle" dominant-baseline="central" letter-spacing="0" fill="#333" font-weight="normal">7</text>
<ellipse cx="439.4" cy="193.6" rx="8.4" ry="7.1" fill="none" stroke="#333" stroke-width="0.75"/>
<text x="439.4" y="194.3" font-family="Liberation Serif" font-size="14.5" text-anchor="middle" dominant-baseline="central" letter-spacing="0" fill="#333" font-weight="normal">1</text>
<ellipse cx="531.1" cy="193.3" rx="8.4" ry="7.1" fill="none" stroke="#333" stroke-width="0.75"/>
<text x="531.1" y="194.0" font-family="Liberation Serif" font-size="14.5" text-anchor="middle" dominant-baseline="central" letter-spacing="0" fill="#333" font-weight="normal">2</text>
<ellipse cx="439.4" cy="216.0" rx="8.4" ry="7.1" fill="none" stroke="#333" stroke-width="0.75"/>
<text x="439.4" y="216.7" font-family="Liberation Serif" font-size="14.5" text-anchor="middle" dominant-baseline="central" letter-spacing="0" fill="#333" font-weight="normal">5</text>
<ellipse cx="532.8" cy="217.0" rx="8.4" ry="7.1" fill="none" stroke="#333" stroke-width="0.75"/>
<text x="532.8" y="217.7" font-family="Liberation Serif" font-size="14.5" text-anchor="middle" dominant-baseline="central" letter-spacing="0" fill="#333" font-weight="normal">6</text>
<ellipse cx="439.6" cy="240.8" rx="8.4" ry="7.1" fill="none" stroke="#333" stroke-width="0.75"/>
<text x="439.6" y="241.5" font-family="Liberation Serif" font-size="14.5" text-anchor="middle" dominant-baseline="central" letter-spacing="0" fill="#333" font-weight="normal">4</text>
<ellipse cx="532.8" cy="240.2" rx="8.4" ry="7.1" fill="none" stroke="#333" stroke-width="0.75"/>
<text x="532.8" y="240.9" font-family="Liberation Serif" font-size="14.5" text-anchor="middle" dominant-baseline="central" letter-spacing="0" fill="#333" font-weight="normal">3</text>
<ellipse cx="486.0" cy="262.6" rx="8.4" ry="7.1" fill="none" stroke="#333" stroke-width="0.75"/>
<text x="486.0" y="263.3" font-family="Liberation Serif" font-size="14.5" text-anchor="middle" dominant-baseline="central" letter-spacing="0" fill="#333" font-weight="normal">8</text>
<text x="497.3" y="168.5" font-family="Liberation Sans" font-size="10.5" text-anchor="start" dominant-baseline="central" letter-spacing="1.2" fill="#333" font-weight="normal">Com.</text>
<text x="547.0" y="217.0" font-family="Liberation Sans" font-size="10.5" text-anchor="start" dominant-baseline="central" letter-spacing="1.2" fill="#333" font-weight="normal">Com.</text>
<text x="497.3" y="262.6" font-family="Liberation Sans" font-size="10.5" text-anchor="start" dominant-baseline="central" letter-spacing="1.2" fill="#333" font-weight="normal">Com.</text>
<text x="421.7" y="194.4" font-family="Liberation Sans" font-size="14" text-anchor="middle" dominant-baseline="central" letter-spacing="0" fill="#333" font-weight="normal">A</text>
<text x="549.4" y="191.7" font-family="Liberation Sans" font-size="14" text-anchor="middle" dominant-baseline="central" letter-spacing="0" fill="#333" font-weight="normal">B</text>
<text x="421.9" y="240.8" font-family="Liberation Sans" font-size="14" text-anchor="middle" dominant-baseline="central" letter-spacing="0" fill="#333" font-weight="normal">D</text>
<text x="551.7" y="240.6" font-family="Liberation Sans" font-size="14" text-anchor="middle" dominant-baseline="central" letter-spacing="0" fill="#333" font-weight="normal">C</text>
<text x="386.9" y="216.0" font-family="Liberation Sans" font-size="10.5" text-anchor="start" dominant-baseline="central" letter-spacing="0.8" fill="#333" font-weight="normal">Center</text>
<defs><pattern id="h" patternUnits="userSpaceOnUse" width="7.6" height="7.6" patternTransform="rotate(45)"><rect x="0" y="0" width="2.3" height="7.6" fill="#111"/></pattern><pattern id="h2" patternUnits="userSpaceOnUse" width="7.6" height="7.6" patternTransform="rotate(-45)"><rect x="0" y="0" width="2.3" height="7.6" fill="#111"/></pattern></defs>
<path d="M449.9,288.6 L484.5,288.6 L484.5,301.8 L473.6,301.8 L473.6,313.6 L462.2,313.6 L462.2,301.8 L449.9,301.8 Z" fill="url(#h)" stroke="#111" stroke-width="2.6"/>
<path d="M464.4,427.2 L476.8,427.2 L476.8,439.9 L488.2,439.9 L488.2,454.1 L453.6,454.1 L453.6,439.9 L464.4,439.9 Z" fill="url(#h2)" stroke="#111" stroke-width="2.6"/>
<rect x="400.9" y="337.8" width="13.8" height="13" fill="#fff"/>
<polygon points="400.9,350.8 402.7,350.8 414.7,339.6 414.7,337.8 412.9,337.8 400.9,349.0" fill="#111"/>
<polygon points="400.9,337.8 404.3,337.8 400.9,341.2" fill="#111"/>
<polygon points="414.7,350.8 411.3,350.8 414.7,347.4" fill="#111"/>
<rect x="400.9" y="337.8" width="13.8" height="13" fill="none" stroke="#111" stroke-width="2.3"/>
<rect x="400.9" y="376.1" width="13.8" height="13" fill="#fff"/>
<polygon points="400.9,389.1 402.7,389.1 414.7,377.9 414.7,376.1 412.9,376.1 400.9,387.3" fill="#111"/>
<polygon points="400.9,376.1 404.3,376.1 400.9,379.5" fill="#111"/>
<polygon points="414.7,389.1 411.3,389.1 414.7,385.7" fill="#111"/>
<rect x="400.9" y="376.1" width="13.8" height="13" fill="none" stroke="#111" stroke-width="2.3"/>
<rect x="400.9" y="394.1" width="13.8" height="13" fill="#fff"/>
<polygon points="400.9,407.1 402.7,407.1 414.7,395.9 414.7,394.1 412.9,394.1 400.9,405.3" fill="#111"/>
<polygon points="400.9,394.1 404.3,394.1 400.9,397.5" fill="#111"/>
<polygon points="414.7,407.1 411.3,407.1 414.7,403.7" fill="#111"/>
<rect x="400.9" y="394.1" width="13.8" height="13" fill="none" stroke="#111" stroke-width="2.3"/>
<rect x="529.2" y="357.9" width="13.8" height="13" fill="#fff"/>
<polygon points="529.2,370.9 531.0,370.9 543.0,359.7 543.0,357.9 541.2,357.9 529.2,369.1" fill="#111"/>
<polygon points="529.2,357.9 532.6,357.9 529.2,361.3" fill="#111"/>
<polygon points="543.0,370.9 539.6,370.9 543.0,367.5" fill="#111"/>
<rect x="529.2" y="357.9" width="13.8" height="13" fill="none" stroke="#111" stroke-width="2.3"/>
<rect x="529.2" y="374.6" width="13.8" height="13" fill="#fff"/>
<polygon points="529.2,387.6 531.0,387.6 543.0,376.4 543.0,374.6 541.2,374.6 529.2,385.8" fill="#111"/>
<polygon points="529.2,374.6 532.6,374.6 529.2,378.0" fill="#111"/>
<polygon points="543.0,387.6 539.6,387.6 543.0,384.2" fill="#111"/>
<rect x="529.2" y="374.6" width="13.8" height="13" fill="none" stroke="#111" stroke-width="2.3"/>
<rect x="529.2" y="392.3" width="13.8" height="13" fill="#fff"/>
<polygon points="529.2,405.3 531.0,405.3 543.0,394.1 543.0,392.3 541.2,392.3 529.2,403.5" fill="#111"/>
<polygon points="529.2,392.3 532.6,392.3 529.2,395.7" fill="#111"/>
<polygon points="543.0,405.3 539.6,405.3 543.0,401.9" fill="#111"/>
<rect x="529.2" y="392.3" width="13.8" height="13" fill="none" stroke="#111" stroke-width="2.3"/>
<line x1="469.5" y1="285.0" x2="469.5" y2="459.0" stroke="#111" stroke-width="0.8"/>
<circle cx="445.0" cy="347.2" r="4.6" fill="none" stroke="#111" stroke-width="2.4"/>
<line x1="442.0" y1="350.2" x2="448.0" y2="344.2" stroke="#111" stroke-width="0.6"/>
<circle cx="494.0" cy="395.4" r="4.6" fill="none" stroke="#111" stroke-width="2.4"/>
<line x1="491.0" y1="398.4" x2="497.0" y2="392.4" stroke="#111" stroke-width="0.6"/>
<line x1="428.3" y1="335.2" x2="510.0" y2="410.0" stroke="#111" stroke-width="0.7"/>
<line x1="433.0" y1="363.0" x2="479.3" y2="406.5" stroke="#111" stroke-width="0.7"/>
<polygon points="479.3,406.5 470.7,402.5 474.7,398.2" fill="#111"/>
<polygon points="433.0,363.0 441.6,367.0 437.6,371.3" fill="#111"/>
<text x="463.5" y="380.6" font-family="Liberation Sans" font-size="11.5" text-anchor="middle" dominant-baseline="central" letter-spacing="1.1" fill="#1a1a1a" font-weight="normal" transform="rotate(50 463.5 380.6)">5.6</text>
<line x1="439.4" y1="354.6" x2="433.0" y2="361.0" stroke="#111" stroke-width="0.7"/>
<line x1="487.6" y1="401.9" x2="481.0" y2="407.0" stroke="#111" stroke-width="0.7"/>
<path d="M429,337.6 Q445,320 466.6,319.5" fill="none" stroke="#111" stroke-width="0.7"/>
<polygon points="429.0,337.6 432.6,328.8 437.0,332.6" fill="#111"/>
<polygon points="466.6,319.5 457.6,322.4 457.6,316.6" fill="#111"/>
<text x="440.6" y="317.0" font-family="Liberation Sans" font-size="10" text-anchor="middle" dominant-baseline="central" letter-spacing="0.5" fill="#1a1a1a" font-weight="normal" transform="rotate(-35 440.6 317.0)">45&#176;</text>
<text x="472.6" y="326.4" font-family="Liberation Sans" font-size="11" text-anchor="start" dominant-baseline="central" letter-spacing="0.6" fill="#1a1a1a" font-weight="normal">&#981;0.75hole</text>
<line x1="459.8" y1="331.5" x2="528.8" y2="331.5" stroke="#111" stroke-width="0.7"/>
<line x1="459.8" y1="331.5" x2="448.7" y2="342.6" stroke="#111" stroke-width="0.7"/>
<polygon points="448.7,342.6 453.0,334.2 457.1,338.3" fill="#111"/>
<text x="515.0" y="348.1" font-family="Liberation Sans" font-size="11" text-anchor="start" dominant-baseline="central" letter-spacing="0.6" fill="#1a1a1a" font-weight="normal">&#981;0.85hole</text>
<line x1="516.0" y1="352.6" x2="570.0" y2="352.6" stroke="#111" stroke-width="0.7"/>
<line x1="516.0" y1="352.6" x2="496.9" y2="390.7" stroke="#111" stroke-width="0.7"/>
<polygon points="496.9,390.7 498.4,381.4 503.6,384.0" fill="#111"/>
<text x="378.9" y="311.2" font-family="Liberation Sans" font-size="10" text-anchor="middle" dominant-baseline="central" letter-spacing="0.6" fill="#1a1a1a" font-weight="normal">6-1</text>
<line x1="368.2" y1="317.5" x2="399.8" y2="317.5" stroke="#111" stroke-width="0.7"/>
<polygon points="399.8,317.5 390.8,320.4 390.8,314.6" fill="#111"/>
<line x1="414.3" y1="317.5" x2="432.4" y2="317.5" stroke="#111" stroke-width="0.7"/>
<polygon points="414.3,317.5 423.3,314.6 423.3,320.4" fill="#111"/>
<line x1="399.8" y1="314.5" x2="399.8" y2="337.0" stroke="#111" stroke-width="0.7"/>
<line x1="414.0" y1="315.4" x2="414.0" y2="337.0" stroke="#111" stroke-width="0.7"/>
<line x1="415.9" y1="337.9" x2="426.6" y2="337.9" stroke="#111" stroke-width="0.7"/>
<line x1="415.9" y1="349.9" x2="426.6" y2="349.9" stroke="#111" stroke-width="0.7"/>
<line x1="424.5" y1="318.7" x2="424.5" y2="337.6" stroke="#111" stroke-width="0.7"/>
<polygon points="424.5,337.6 421.6,328.6 427.4,328.6" fill="#111"/>
<line x1="424.5" y1="349.9" x2="424.5" y2="372.0" stroke="#111" stroke-width="0.7"/>
<polygon points="424.5,349.9 427.4,358.9 421.6,358.9" fill="#111"/>
<text x="418.4" y="362.3" font-family="Liberation Sans" font-size="10" text-anchor="middle" dominant-baseline="central" letter-spacing="0.6" fill="#1a1a1a" font-weight="normal" transform="rotate(-90 418.4 362.3)">6-1</text>
<line x1="429.9" y1="352.0" x2="429.9" y2="371.4" stroke="#111" stroke-width="0.7"/>
<polygon points="429.9,371.4 427.0,362.4 432.8,362.4" fill="#111"/>
<line x1="402.8" y1="371.4" x2="528.0" y2="371.4" stroke="#111" stroke-width="0.7"/>
<line x1="388.0" y1="343.3" x2="399.8" y2="343.3" stroke="#111" stroke-width="0.7"/>
<line x1="390.4" y1="343.3" x2="390.4" y2="382.2" stroke="#111" stroke-width="0.8"/>
<polygon points="390.4,382.2 387.5,373.2 393.3,373.2" fill="#111"/>
<polygon points="390.4,343.3 393.3,352.3 387.5,352.3" fill="#111"/>
<text x="382.2" y="365.6" font-family="Liberation Sans" font-size="10.5" text-anchor="middle" dominant-baseline="central" letter-spacing="1.1" fill="#1a1a1a" font-weight="normal" transform="rotate(-90 382.2 365.6)">3.2</text>
<line x1="390.4" y1="382.4" x2="429.1" y2="382.4" stroke="#111" stroke-width="0.7"/>
<line x1="390.4" y1="399.7" x2="415.9" y2="399.7" stroke="#111" stroke-width="0.7"/>
<line x1="390.4" y1="400.2" x2="390.4" y2="417.4" stroke="#111" stroke-width="0.7"/>
<polygon points="390.4,400.2 393.3,409.2 387.5,409.2" fill="#111"/>
<text x="382.2" y="395.2" font-family="Liberation Sans" font-size="10.5" text-anchor="middle" dominant-baseline="central" letter-spacing="1.1" fill="#1a1a1a" font-weight="normal" transform="rotate(-90 382.2 395.2)">1.4</text>
<line x1="429.9" y1="382.4" x2="429.9" y2="404.0" stroke="#111" stroke-width="0.7"/>
<polygon points="429.9,382.4 432.8,391.4 427.0,391.4" fill="#111"/>
<text x="423.3" y="397.7" font-family="Liberation Sans" font-size="10.5" text-anchor="middle" dominant-baseline="central" letter-spacing="1.1" fill="#1a1a1a" font-weight="normal" transform="rotate(-90 423.3 397.7)">0.9</text>
<line x1="414.3" y1="395.0" x2="414.3" y2="415.8" stroke="#111" stroke-width="0.7"/>
<line x1="414.3" y1="411.7" x2="468.5" y2="411.7" stroke="#111" stroke-width="0.7"/>
<polygon points="414.3,411.7 423.3,408.8 423.3,414.6" fill="#111"/>
<polygon points="468.5,411.7 459.5,414.6 459.5,408.8" fill="#111"/>
<text x="441.4" y="405.9" font-family="Liberation Sans" font-size="10.5" text-anchor="middle" dominant-baseline="central" letter-spacing="1.1" fill="#1a1a1a" font-weight="normal">4.6</text>
<line x1="473.2" y1="410.0" x2="526.8" y2="410.0" stroke="#111" stroke-width="0.7"/>
<polygon points="473.2,410.0 482.2,407.1 482.2,412.9" fill="#111"/>
<polygon points="526.8,410.0 517.8,412.9 517.8,407.1" fill="#111"/>
<text x="498.3" y="406.7" font-family="Liberation Sans" font-size="10.5" text-anchor="middle" dominant-baseline="central" letter-spacing="1.1" fill="#1a1a1a" font-weight="normal">5</text>
<line x1="530.7" y1="390.0" x2="530.7" y2="413.0" stroke="#111" stroke-width="0.7"/>
<line x1="464.8" y1="417.0" x2="464.8" y2="426.0" stroke="#111" stroke-width="0.7"/>
<line x1="474.8" y1="417.0" x2="474.8" y2="426.0" stroke="#111" stroke-width="0.7"/>
<line x1="442.6" y1="423.1" x2="464.8" y2="423.1" stroke="#111" stroke-width="0.7"/>
<polygon points="464.8,423.1 455.8,426.0 455.8,420.2" fill="#111"/>
<line x1="474.8" y1="423.1" x2="498.3" y2="423.1" stroke="#111" stroke-width="0.7"/>
<polygon points="474.8,423.1 483.8,420.2 483.8,426.0" fill="#111"/>
<text x="493.1" y="419.6" font-family="Liberation Sans" font-size="10.5" text-anchor="middle" dominant-baseline="central" letter-spacing="1.1" fill="#1a1a1a" font-weight="normal">1</text>
<line x1="452.4" y1="455.0" x2="452.4" y2="480.0" stroke="#111" stroke-width="0.7"/>
<line x1="488.7" y1="455.0" x2="488.7" y2="480.0" stroke="#111" stroke-width="0.7"/>
<line x1="452.4" y1="474.0" x2="488.7" y2="474.0" stroke="#111" stroke-width="0.8"/>
<polygon points="488.7,474.0 479.7,476.9 479.7,471.1" fill="#111"/>
<polygon points="452.4,474.0 461.4,471.1 461.4,476.9" fill="#111"/>
<text x="470.0" y="465.8" font-family="Liberation Sans" font-size="11" text-anchor="middle" dominant-baseline="central" letter-spacing="1.5" fill="#1a1a1a" font-weight="normal">2.9</text>
<line x1="527.0" y1="364.2" x2="546.0" y2="364.2" stroke="#111" stroke-width="0.7"/>
<line x1="527.0" y1="381.5" x2="546.0" y2="381.5" stroke="#111" stroke-width="0.7"/>
<line x1="527.0" y1="399.4" x2="546.0" y2="399.4" stroke="#111" stroke-width="0.7"/>
<line x1="486.4" y1="287.5" x2="616.0" y2="287.5" stroke="#111" stroke-width="0.7"/>
<line x1="488.4" y1="303.3" x2="600.0" y2="303.3" stroke="#111" stroke-width="0.7"/>
<line x1="474.5" y1="315.1" x2="584.0" y2="315.1" stroke="#111" stroke-width="0.7"/>
<line x1="477.6" y1="426.1" x2="584.0" y2="426.1" stroke="#111" stroke-width="0.7"/>
<line x1="488.7" y1="439.0" x2="600.0" y2="439.0" stroke="#111" stroke-width="0.7"/>
<line x1="488.7" y1="453.3" x2="616.0" y2="453.3" stroke="#111" stroke-width="0.7"/>
<line x1="580.4" y1="315.5" x2="583.0" y2="426.3" stroke="#111" stroke-width="0.8"/>
<polygon points="583.0,426.3 579.9,417.4 585.7,417.2" fill="#111"/>
<polygon points="580.4,315.5 583.5,324.4 577.7,324.6" fill="#111"/>
<text x="574.3" y="370.5" font-family="Liberation Sans" font-size="10.5" text-anchor="middle" dominant-baseline="central" letter-spacing="0.9" fill="#1a1a1a" font-weight="normal" transform="rotate(-90 574.3 370.5)">9.2</text>
<line x1="595.2" y1="302.2" x2="597.0" y2="437.4" stroke="#111" stroke-width="0.8"/>
<polygon points="597.0,437.4 594.0,428.4 599.8,428.4" fill="#111"/>
<polygon points="595.2,302.2 598.2,311.2 592.4,311.2" fill="#111"/>
<text x="590.6" y="369.0" font-family="Liberation Sans" font-size="10.5" text-anchor="middle" dominant-baseline="central" letter-spacing="0.9" fill="#1a1a1a" font-weight="normal" transform="rotate(-90 590.6 369.0)">11.2</text>
<line x1="611.9" y1="287.4" x2="615.6" y2="452.2" stroke="#111" stroke-width="0.8"/>
<polygon points="615.6,452.2 612.5,443.3 618.3,443.1" fill="#111"/>
<polygon points="611.9,287.4 615.0,296.3 609.2,296.5" fill="#111"/>
<text x="606.0" y="369.6" font-family="Liberation Sans" font-size="10.5" text-anchor="middle" dominant-baseline="central" letter-spacing="0.9" fill="#1a1a1a" font-weight="normal" transform="rotate(-90 606.0 369.6)">13.8</text>
</svg></body></html>
